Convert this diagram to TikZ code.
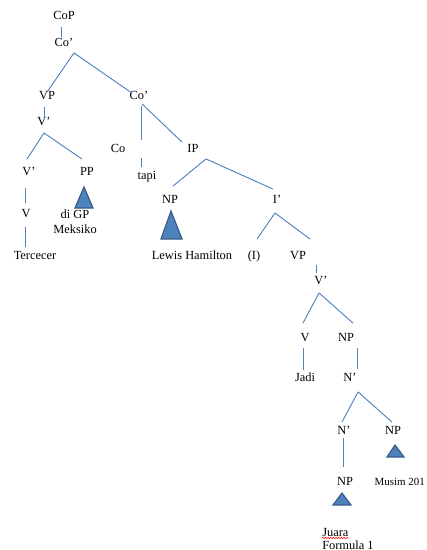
\documentclass[tikz,border=0pt]{standalone}
\usepackage{fontspec}
\setmainfont{Liberation Serif}
\usetikzlibrary{decorations.pathmorphing}
\definecolor{branchblue}{RGB}{79,129,189}
\definecolor{triedge}{RGB}{56,93,138}

\begin{document}
\begin{tikzpicture}[x=0.75pt,y=-0.75pt,
  lbl/.style={font=\fontsize{9.3}{11}\selectfont,inner xsep=1pt,inner ysep=3pt,
    text height=7pt,text depth=3pt},
  leaf/.style={font=\fontsize{9.3}{11.25}\selectfont,align=center,inner sep=0pt},
  branch/.style={draw=branchblue,line width=0.7pt},
  tri/.style={fill=branchblue,draw=triedge,line width=0.9pt,line join=miter}]

  \useasboundingbox (0,0) rectangle (427,550);

  % labels
  \node[lbl] (cop) at (64,17) {CoP};
  \node[lbl] (co1) at (64,44) {Co'};
  \node[lbl] (vp1) at (47,97) {VP};
  \node[lbl] (co2) at (139,97) {Co'};
  \node[lbl] (v1) at (44,123) {V'};
  \node[lbl] (v1b) at (29,173) {V'};
  \node[lbl] (pp) at (87,173) {PP};
  \node[lbl] (v2) at (26,215) {V};
  \node[lbl] (terc) at (35,257) {Tercecer};
  \node[leaf] (digp) at (75,222) {di GP\\Meksiko};
  \node[lbl] (co) at (118,150) {Co};
  \node[lbl] (tapi) at (147,177) {tapi};
  \node[lbl] (ip) at (193,150) {IP};
  \node[lbl] (np1) at (170,201) {NP};
  \node[lbl] (lewis) at (192,257) {Lewis Hamilton};
  \node[lbl] (ibar) at (277,201) {I'};
  \node[lbl] (infl) at (254,257) {(I)};
  \node[lbl] (vp2) at (298,257) {VP};
  \node[lbl] (v3) at (321,282) {V'};
  \node[lbl] (v4) at (305,339) {V};
  \node[lbl] (np2) at (346,339) {NP};
  \node[lbl] (jadi) at (305,379) {Jadi};
  \node[lbl] (nbar1) at (350,379) {N'};
  \node[lbl] (nbar2) at (344,432) {N'};
  \node[lbl] (np3) at (393,432) {NP};
  \node[lbl] (np4) at (345,483) {NP};
  \node[lbl,font=\fontsize{8.2}{10}\selectfont,anchor=west] (musim) at (373,483) {Musim 201};
  \node[lbl,anchor=base west,inner sep=0pt] (juara) at (322,536) {Juara};
  \node[lbl,anchor=base west,inner sep=0pt] (formula) at (322,549) {Formula 1};

  % branches
  \draw[branch] ([shift={(-3,-1)}]cop.south) -- ([shift={(-3,4)}]co1.north);
  \draw[branch] ([shift={(10,-2)}]co1.south) -- ([shift={(0,6)}]vp1.north);
  \draw[branch] ([shift={(10,-2)}]co1.south) -- ([shift={(-7,7)}]co2.north);
  \draw[branch] ([shift={(-3,-1)}]vp1.south) -- ([shift={(0,6)}]v1.north);
  \draw[branch] ([shift={(0,-1)}]v1.south) -- ([shift={(-2,-3)}]v1b.north);
  \draw[branch] ([shift={(0,-1)}]v1.south) -- ([shift={(-5,-3)}]pp.north);
  \draw[branch] ([shift={(-4,4)}]v1b.south) -- ([shift={(-1,-1)}]v2.north);
  \draw[branch] ([shift={(-1,1)}]v2.south) -- ([shift={(-10,1)}]terc.north);
  \draw[branch,dash pattern=on 25.5pt off 13.5pt on 10pt off 10pt]
    ([shift={(2,-2)}]co2.south) -- ([shift={(-6,1)}]tapi.north);
  \draw[branch] ([shift={(3,-4)}]co2.south) -- ([shift={(-11,3)}]ip.north);
  \draw[branch] ([shift={(13,-2)}]ip.south) -- ([shift={(3,-4)}]np1.north);
  \draw[branch] ([shift={(13,-2)}]ip.south) -- ([shift={(-4,-1)}]ibar.north);
  \draw[branch] ([shift={(-2,1)}]ibar.south) -- ([shift={(3,-7)}]infl.north);
  \draw[branch] ([shift={(-2,1)}]ibar.south) -- ([shift={(12,-7)}]vp2.north);
  \draw[branch] ([shift={(18,-3)}]vp2.south) -- ([shift={(-5,2)}]v3.north);
  \draw[branch] ([shift={(-2,0)}]v3.south) -- ([shift={(-2,-5)}]v4.north);
  \draw[branch] ([shift={(-2,0)}]v3.south) -- ([shift={(7,-5)}]np2.north);
  \draw[branch] ([shift={(-2,-2)}]v4.south) -- ([shift={(-2,2)}]jadi.north);
  \draw[branch] ([shift={(11,-2)}]np2.south) -- ([shift={(7,1)}]nbar1.north);
  \draw[branch] ([shift={(8,2)}]nbar1.south) -- ([shift={(-2,1)}]nbar2.north);
  \draw[branch] ([shift={(8,2)}]nbar1.south) -- ([shift={(-1,1)}]np3.north);
  \draw[branch] ([shift={(-1,-5)}]nbar2.south) -- ([shift={(-2,-5)}]np4.north);

  % triangles
  \filldraw[tri] (84,187) -- (75,208) -- (93,208) -- cycle;
  \filldraw[tri] (171,211) -- (161,239) -- (182,239) -- cycle;
  \filldraw[tri] (395,445) -- (387,457) -- (404,457) -- cycle;
  \filldraw[tri] (342,493) -- (333,505) -- (351,505) -- cycle;

  % spell-check mark
  \draw[red,line width=0.4pt,decorate,decoration={snake,amplitude=0.5pt,segment length=2pt}]
    ([yshift=-1.5pt]juara.base west) -- ([yshift=-1.5pt]juara.base east);
\end{tikzpicture}
\end{document}
